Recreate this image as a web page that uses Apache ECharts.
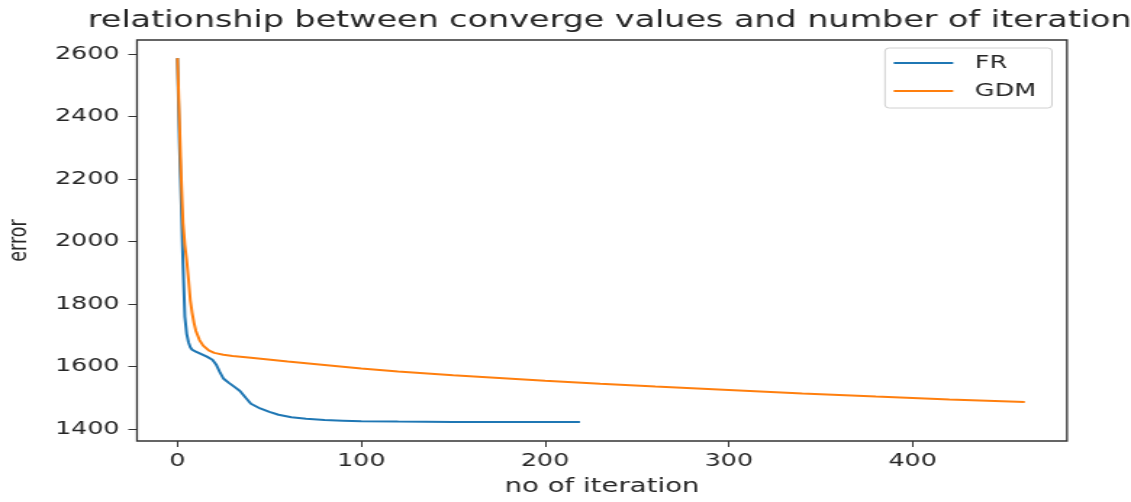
<!DOCTYPE html>
<html>
<head>
<meta charset="utf-8">
<script src="https://cdn.jsdelivr.net/npm/echarts@6/dist/echarts.min.js"></script>
<style>
  html, body { margin: 0; padding: 0; background: #fff; overflow: hidden; }
  #wrap { width: 1131px; height: 502px; overflow: hidden; }
  #chart { height: 502px; transform-origin: 0 0; }
</style>
</head>
<body>
<div id="wrap"><div id="chart"></div></div>
<script>
// ---- data ----
const frIter  = [0, 1, 2, 3, 4, 5, 6, 7, 8, 10, 13, 16, 19, 21, 23, 25, 28, 31, 34, 37, 40, 45, 50, 55, 62, 70, 80, 90, 100, 120, 150, 180, 219];
const frError = [2587, 2330, 2130, 1930, 1760, 1705, 1678, 1662, 1654, 1648, 1640, 1632, 1622, 1607, 1583, 1562, 1548, 1535, 1522, 1501, 1481, 1466, 1455, 1446, 1438, 1433, 1429, 1427, 1425, 1424, 1423, 1423, 1423];
const gdmIter  = [0, 1, 2, 3, 4, 5, 6, 7, 8, 9, 10, 12, 14, 17, 20, 25, 30, 40, 60, 80, 100, 120, 150, 200, 230, 260, 300, 340, 380, 420, 461];
const gdmError = [2587, 2400, 2210, 2060, 1990, 1940, 1880, 1812, 1772, 1740, 1715, 1685, 1667, 1652, 1644, 1638, 1634, 1628, 1616, 1605, 1594, 1584, 1572, 1555, 1545, 1536, 1525, 1514, 1504, 1495, 1487];
const xTicks = [0, 100, 200, 300, 400];
const yTicks = [1400, 1600, 1800, 2000, 2200, 2400, 2600];
const seriesNames = ['FR', 'GDM'];
const titleText = 'relationship between converge values and number of iteration';
const xName = 'no of iteration';
const yName = 'error';

// ---- layout: reference is a horizontally stretched figure ----
const S = 1.45;                      // horizontal stretch
const W = Math.round(1131 / S);
const el = document.getElementById('chart');
el.style.width = W + 'px';
el.style.transform = 'scaleX(' + (1131 / W) + ')';
const sx = W / 1131;                 // convert reference px to chart px

const chart = echarts.init(el, null, { renderer: 'canvas' });
const font = 'DejaVu Sans';
const txt = '#262626';
const plain = v => String(v);

chart.setOption({
  animation: false,
  backgroundColor: '#fff',
  title: {
    text: titleText,
    left: 602.5 * sx, top: 5, textAlign: 'center',
    textStyle: { fontFamily: font, fontSize: 23, fontWeight: 'normal', color: txt }
  },
  grid: {
    left: 137 * sx, right: (1131 - 1067) * sx, top: 40, bottom: 61,
    show: true, borderColor: '#333', borderWidth: 1.3,
    containLabel: false, outerBoundsMode: 'none'
  },
  legend: {
    orient: 'vertical',
    left: 885 * sx, top: 48,
    padding: [5, 11, 7, 6],
    icon: 'rect',
    itemGap: 8, itemWidth: 41, itemHeight: 2,
    borderColor: '#d0d0d0', borderWidth: 1, borderRadius: 3,
    textStyle: { fontFamily: font, fontSize: 17.5, color: txt, lineHeight: 20, padding: [0, 0, 0, 10] },
    data: seriesNames
  },
  xAxis: {
    type: 'value', min: -22, max: 484,
    name: xName, nameLocation: 'middle', nameGap: 37,
    nameTextStyle: { fontFamily: font, fontSize: 19, color: txt },
    axisLine: { show: false, onZero: false },
    axisTick: { show: true, inside: false, length: 6, lineStyle: { color: '#333', width: 1 }, customValues: xTicks },
    axisLabel: { fontFamily: font, fontSize: 17.5, color: txt, margin: 11, customValues: xTicks, formatter: plain },
    splitLine: { show: false }
  },
  yAxis: {
    type: 'value', min: 1362, max: 2645,
    name: yName, nameLocation: 'middle', nameGap: 72,
    nameTextStyle: { fontFamily: font, fontSize: 17.5, color: txt },
    axisLine: { show: false, onZero: false },
    axisTick: { show: true, inside: false, length: 6, lineStyle: { color: '#333', width: 1 }, customValues: yTicks },
    axisLabel: { fontFamily: font, fontSize: 17.5, color: txt, margin: 12, customValues: yTicks, formatter: plain },
    splitLine: { show: false }
  },
  series: [
    {
      name: seriesNames[0], type: 'line', symbol: 'none', smooth: false,
      data: frIter.map((x, i) => [x, frError[i]]),
      lineStyle: { color: '#1f77b4', width: 2 }, itemStyle: { color: '#1f77b4' }
    },
    {
      name: seriesNames[1], type: 'line', symbol: 'none', smooth: false,
      data: gdmIter.map((x, i) => [x, gdmError[i]]),
      lineStyle: { color: '#ff7f0e', width: 2 }, itemStyle: { color: '#ff7f0e' }
    }
  ]
});
</script>
</body>
</html>
